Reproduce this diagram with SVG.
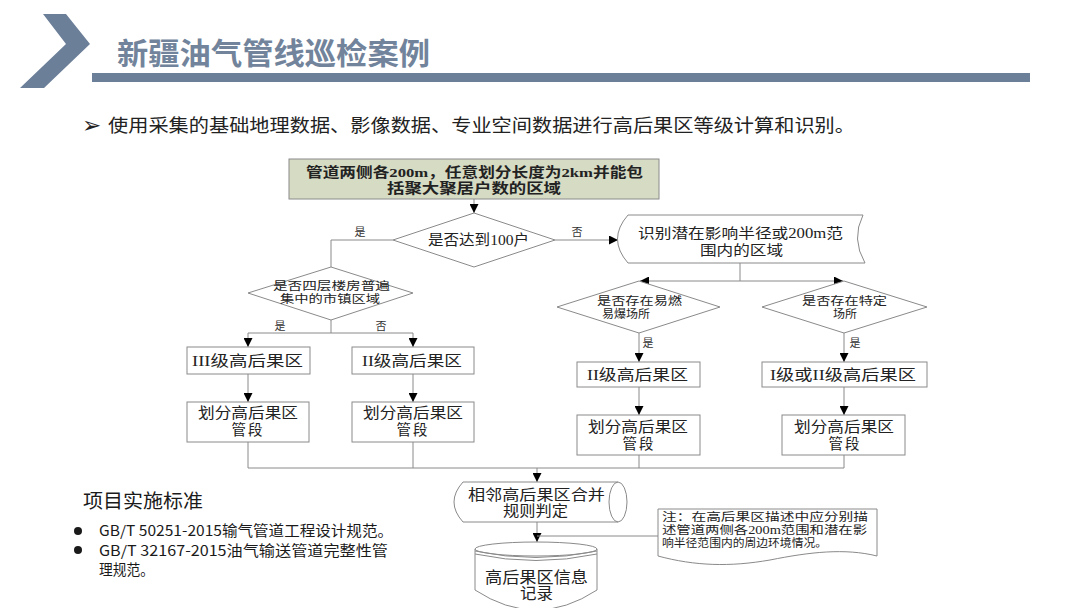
<svg xmlns="http://www.w3.org/2000/svg" width="1080" height="608" viewBox="0 0 1080 608">
<defs>
<marker id="ah" viewBox="0 0 10 10" refX="10" refY="5" markerWidth="9" markerHeight="9" markerUnits="userSpaceOnUse" orient="auto">
<path d="M0,0 L10,5 L0,10 Z" fill="#000"/>
</marker>
<style>
.fc{font-family:"Liberation Serif","Noto Sans CJK SC",serif;fill:#222;}
.sh{fill:#fff;stroke:#8a8a8a;stroke-width:1;}
.ln{fill:none;stroke:#8a8a8a;stroke-width:1;}
.arr{fill:none;stroke:#8a8a8a;stroke-width:1;marker-end:url(#ah);}
.lbl{font-family:"Liberation Serif","Noto Sans CJK SC",serif;fill:#333;font-size:11px;}
.sans{font-family:"Noto Sans CJK SC","Liberation Sans",sans-serif;fill:#1a1a1a;}
</style>
</defs>
<rect width="1080" height="608" fill="#fff"/>
<g id="header">
<polygon points="43,14 66,14 90,44 44,88 20,88 66,44" fill="#6c7f99"/>
<rect x="92" y="73" width="938" height="9" fill="#6c7f99"/>
<text x="117" y="64" font-family="Noto Sans CJK SC, sans-serif" font-weight="700" font-size="30" fill="#72849b" textLength="313" lengthAdjust="spacingAndGlyphs">新疆油气管线巡检案例</text>
<text x="82" y="133" font-family="DejaVu Sans, sans-serif" font-size="23" fill="#222">➢</text>
<text x="108" y="132" class="fc" font-size="18.5" textLength="747" lengthAdjust="spacingAndGlyphs">使用采集的基础地理数据、影像数据、专业空间数据进行高后果区等级计算和识别。</text>
</g>
<g id="connectors">
<path class="arr" d="M474,199 V213"/>
<path class="ln" d="M393,240 H331 V267"/>
<path class="arr" d="M555,240 H618"/>
<path class="ln" d="M331,320 V333 M248,333 H413"/>
<path class="arr" d="M248,333 V347"/>
<path class="arr" d="M413,333 V347"/>
<path class="arr" d="M248,374 V402"/>
<path class="arr" d="M413,374 V402"/>
<path class="ln" d="M248,442 V468 M413,442 V468 M639,455 V468 M844,455 V468 M248,468 H844"/>
<path class="arr" d="M537,468 V482"/>
<path class="ln" d="M740,263 V281"/>
<path class="arr" d="M740,281 H640"/>
<path class="arr" d="M740,281 H843"/>
<path class="arr" d="M639,333 V362"/>
<path class="arr" d="M844,333 V362"/>
<path class="arr" d="M639,387 V415"/>
<path class="arr" d="M844,387 V415"/>
<path class="arr" d="M537,522 V542"/>
<path class="ln" d="M658,536 H537"/>
<text class="lbl" x="360" y="236" text-anchor="middle">是</text>
<text class="lbl" x="577" y="236" text-anchor="middle">否</text>
<text class="lbl" x="280" y="330" text-anchor="middle">是</text>
<text class="lbl" x="381" y="330" text-anchor="middle">否</text>
<text class="lbl" x="648" y="347" text-anchor="middle">是</text>
<text class="lbl" x="855" y="347" text-anchor="middle">是</text>
</g>
<g id="n-start">
<rect x="289" y="159" width="370" height="40" fill="#d6dbc4" stroke="#8a8a8a"/>
<text class="fc" x="306" y="177" font-size="13.5" font-weight="700" textLength="337" lengthAdjust="spacingAndGlyphs">管道两侧各200m，任意划分长度为2km并能包</text>
<text class="fc" x="387" y="193" font-size="13.5" font-weight="700" textLength="174" lengthAdjust="spacingAndGlyphs">括聚大聚居户数的区域</text>
</g>
<g id="n-d1">
<polygon class="sh" points="474,213 555,240 474,267 393,240"/>
<text class="fc" x="428" y="245" font-size="15" textLength="101" lengthAdjust="spacingAndGlyphs">是否达到100户</text>
</g>
<g id="n-d2">
<polygon class="sh" points="331,267 413,293 331,320 248,293"/>
<text class="fc" x="273" y="290" font-size="11.5" textLength="117" lengthAdjust="spacingAndGlyphs">是否四层楼房普遍</text>
<text class="fc" x="280" y="303" font-size="11.5" textLength="100" lengthAdjust="spacingAndGlyphs">集中的市镇区域</text>
</g>
<g id="n-l3">
<rect class="sh" x="187" y="347" width="123" height="27"/>
<text class="fc" x="192" y="366" font-size="15" textLength="111" lengthAdjust="spacingAndGlyphs">III级高后果区</text>
</g>
<g id="n-l2">
<rect class="sh" x="352" y="347" width="122" height="27"/>
<text class="fc" x="362" y="366" font-size="15" textLength="100" lengthAdjust="spacingAndGlyphs">II级高后果区</text>
</g>
<g id="n-ls1">
<rect class="sh" x="187" y="402" width="122" height="40"/>
<text class="fc" x="198" y="418" font-size="14.5" textLength="100" lengthAdjust="spacingAndGlyphs">划分高后果区</text>
<text class="fc" x="248" y="435" font-size="14.5" text-anchor="middle" letter-spacing="2">管段</text>
</g>
<g id="n-ls2">
<rect class="sh" x="352" y="402" width="122" height="40"/>
<text class="fc" x="363" y="418" font-size="14.5" textLength="100" lengthAdjust="spacingAndGlyphs">划分高后果区</text>
<text class="fc" x="413" y="435" font-size="14.5" text-anchor="middle" letter-spacing="2">管段</text>
</g>
<g id="n-identify">
<path class="sh" d="M628,215 H863 Q851,239 865,263 H628 Q607,239 628,215 Z"/>
<text class="fc" x="638" y="238" font-size="14" textLength="205" lengthAdjust="spacingAndGlyphs">识别潜在影响半径或200m范</text>
<text class="fc" x="700" y="255" font-size="14" textLength="83" lengthAdjust="spacingAndGlyphs">围内的区域</text>
</g>
<g id="n-d3">
<polygon class="sh" points="639,281 720,307 639,333 557,307"/>
<text class="fc" x="597" y="305" font-size="11.5" textLength="85" lengthAdjust="spacingAndGlyphs">是否存在易燃</text>
<text class="fc" x="602" y="318" font-size="11.5" textLength="48" lengthAdjust="spacingAndGlyphs">易爆场所</text>
</g>
<g id="n-d4">
<polygon class="sh" points="844,281 927,307 844,333 762,307"/>
<text class="fc" x="802" y="305" font-size="11.5" textLength="85" lengthAdjust="spacingAndGlyphs">是否存在特定</text>
<text class="fc" x="833" y="318" font-size="11.5" textLength="24" lengthAdjust="spacingAndGlyphs">场所</text>
</g>
<g id="n-r2">
<rect class="sh" x="577" y="362" width="123" height="25"/>
<text class="fc" x="587" y="380" font-size="15" textLength="101" lengthAdjust="spacingAndGlyphs">II级高后果区</text>
</g>
<g id="n-r12">
<rect class="sh" x="762" y="362" width="165" height="25"/>
<text class="fc" x="770" y="380" font-size="15" textLength="146" lengthAdjust="spacingAndGlyphs">I级或II级高后果区</text>
</g>
<g id="n-rs1">
<rect class="sh" x="577" y="415" width="123" height="40"/>
<text class="fc" x="588" y="432" font-size="14.5" textLength="100" lengthAdjust="spacingAndGlyphs">划分高后果区</text>
<text class="fc" x="639" y="449" font-size="14.5" text-anchor="middle" letter-spacing="2">管段</text>
</g>
<g id="n-rs2">
<rect class="sh" x="782" y="415" width="123" height="40"/>
<text class="fc" x="794" y="432" font-size="14.5" textLength="100" lengthAdjust="spacingAndGlyphs">划分高后果区</text>
<text class="fc" x="845" y="449" font-size="14.5" text-anchor="middle" letter-spacing="2">管段</text>
</g>
<g id="n-merge">
<path class="sh" d="M463,482 H618 A9,20 0 0 1 618,522 H463 Q445,502 463,482 Z"/>
<path class="ln" d="M618,482 A9,20 0 0 0 618,522"/>
<text class="fc" x="468" y="500" font-size="15" textLength="137" lengthAdjust="spacingAndGlyphs">相邻高后果区合并</text>
<text class="fc" x="503" y="516" font-size="15" textLength="65" lengthAdjust="spacingAndGlyphs">规则判定</text>
</g>
<g id="n-note">
<path class="sh" d="M658,509 H877 V556 C845,548 810,552 770,560 C730,567 695,566 658,556 Z"/>
<text class="fc" x="662" y="521" font-size="11.5" textLength="206" lengthAdjust="spacingAndGlyphs">注：在高后果区描述中应分别描</text>
<text class="fc" x="662" y="534" font-size="11.5" textLength="205" lengthAdjust="spacingAndGlyphs">述管道两侧各200m范围和潜在影</text>
<text class="fc" x="662" y="547" font-size="11.5" textLength="165" lengthAdjust="spacingAndGlyphs">响半径范围内的周边环境情况。</text>
</g>
<g id="n-db">
<path class="sh" d="M475,549 V590 Q536,630 597,590 V549"/>
<ellipse class="sh" cx="536" cy="549" rx="61" ry="7"/>
<path class="ln" d="M475,551 Q536,564 597,551 M475,554 Q536,567 597,554"/>
<text class="fc" x="485" y="583" font-size="16" textLength="103" lengthAdjust="spacingAndGlyphs">高后果区信息</text>
<text class="fc" x="520" y="599" font-size="16" textLength="33" lengthAdjust="spacingAndGlyphs">记录</text>
</g>
<g id="standards">
<text class="sans" x="83" y="508" font-size="19.5" textLength="120" lengthAdjust="spacingAndGlyphs">项目实施标准</text>
<circle cx="78" cy="531" r="4" fill="#1a1a1a"/>
<circle cx="78" cy="550" r="4" fill="#1a1a1a"/>
<text class="sans" x="99" y="536" font-size="14.5" textLength="294" lengthAdjust="spacingAndGlyphs">GB/T 50251-2015输气管道工程设计规范。</text>
<text class="sans" x="99" y="556" font-size="14.5" textLength="289" lengthAdjust="spacingAndGlyphs">GB/T 32167-2015油气输送管道完整性管</text>
<text class="sans" x="99" y="575" font-size="14.5" textLength="55" lengthAdjust="spacingAndGlyphs">理规范。</text>
</g>
</svg>
